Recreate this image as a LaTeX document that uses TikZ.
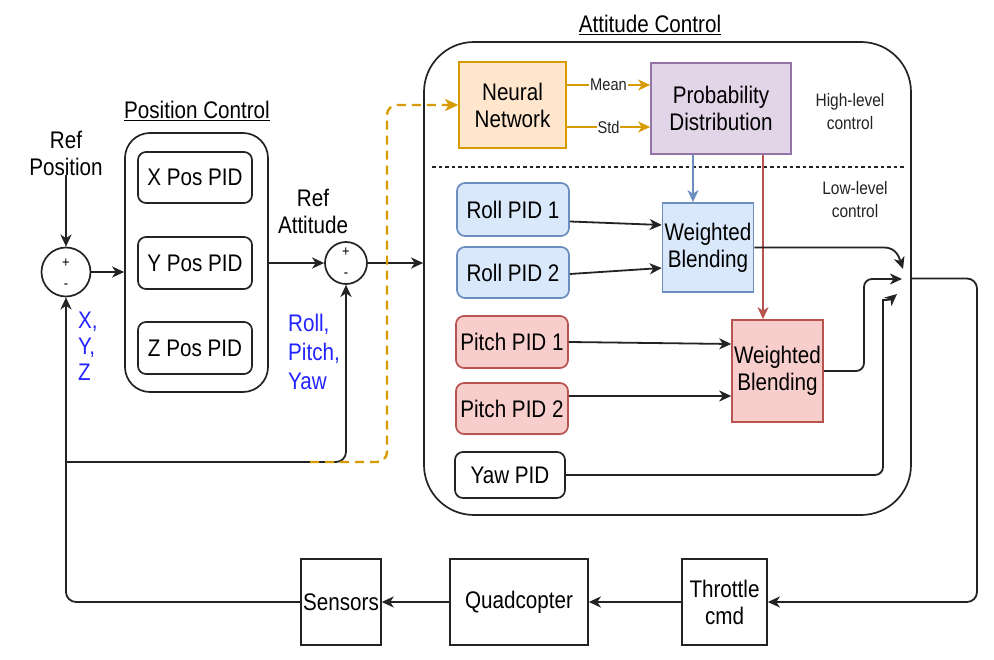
\documentclass[tikz,border=0pt]{standalone}
\usepackage{fontspec}
\setmainfont{Liberation Sans}[FakeStretch=0.86]
\usetikzlibrary{arrows.meta,calc}
\definecolor{ln}{RGB}{35,35,35}
\definecolor{orS}{HTML}{D79B00}
\definecolor{orF}{HTML}{FFE6CC}
\definecolor{puS}{HTML}{9673A6}
\definecolor{puF}{HTML}{E1D5E7}
\definecolor{blS}{HTML}{6C8EBF}
\definecolor{blF}{HTML}{DAE8FC}
\definecolor{reS}{HTML}{B85450}
\definecolor{reF}{HTML}{F8CECC}
\definecolor{bltxt}{RGB}{35,35,255}
\tikzset{
  box/.style={draw=ln, line width=1.7pt, inner sep=2pt, align=center},
  rbox/.style={box, rounded corners=8pt},
  arr/.style={draw=ln, line width=1.8pt, -{Stealth[length=12pt,width=11pt,inset=3.5pt]}},
  carr/.style={line width=1.6pt, -{Stealth[length=12pt,width=11pt,inset=3.5pt]}},
  sumc/.style={circle, draw=ln, line width=1.7pt, inner sep=0pt},
  small/.style={font=\fontsize{17}{20}\selectfont},
  smaller/.style={font=\fontsize{18}{23}\selectfont},
  pm/.style={font=\fontsize{15}{16}\selectfont, inner sep=0pt},
  lbl/.style={align=center, inner sep=0pt}
}
\begin{document}
\begin{tikzpicture}[x=1pt,y=-1pt, font=\fontsize{24}{27}\selectfont]
\useasboundingbox (0,0) rectangle (994,660);

% ---------- titles / labels
\node[lbl] (refpos) at (66,153) {Ref\\Position};
\node[lbl] (postitle) at (197,111) {\underline{Position Control}};
\node[lbl] (atttitle) at (650,25) {\underline{Attitude Control}};
\node[lbl] (refatt) at (313,211) {Ref\\Attitude};
\node[lbl, anchor=north west, align=left, text=bltxt, font=\fontsize{24}{26}\selectfont] (xyz) at (78,312) {X,\\Y,\\Z};
\node[lbl, anchor=north west, align=left, text=bltxt, font=\fontsize{24}{29}\selectfont] (rpy) at (288,314) {Roll,\\Pitch,\\Yaw};

% ---------- sum junctions
\node[sumc, minimum size=49pt] (sum1) at (66,272) {};
\node[pm] (s1p) at ([yshift=9pt]sum1) {+};
\node[pm] (s1m) at ([yshift=-14pt]sum1) {-};
\node[sumc, minimum size=42pt] (sum2) at (346,263) {};
\node[pm] (s2p) at ([yshift=11pt]sum2) {+};
\node[pm] (s2m) at ([yshift=-12pt]sum2) {-};

% ---------- position control
\node[box, rounded corners=25pt, minimum width=143pt, minimum height=259pt] (pos) at (196.5,262.5) {};
\node[rbox, minimum width=114pt, minimum height=51pt] (xpid) at (195,177.5) {X Pos PID};
\node[rbox, minimum width=114pt, minimum height=52pt] (ypid) at (195,263) {Y Pos PID};
\node[rbox, minimum width=114pt, minimum height=52pt] (zpid) at (195,348) {Z Pos PID};

% ---------- attitude control
\node[box, rounded corners=50pt, minimum width=487pt, minimum height=473pt] (att) at (667.5,278.5) {};
\node[box, draw=orS, fill=orF, minimum width=107pt, minimum height=86pt] (nn) at (512.5,105) {Neural\\Network};
\node[box, draw=puS, fill=puF, minimum width=140pt, minimum height=91pt] (pd) at (721,108.5) {Probability\\Distribution};
\node[lbl, smaller, text=ln] (hl) at (850,112) {High-level\\control};
\node[lbl, smaller, text=ln] (ll) at (855,200) {Low-level\\control};
\coordinate (sepL) at (432,167);
\coordinate (sepR) at (906,167);
\draw[ln, line width=1.5pt, dash pattern=on 3.5pt off 3pt] (sepL) -- (sepR);

\node[box, draw=blS, fill=blF, rounded corners=8pt, minimum width=112pt, minimum height=53pt] (roll1) at (513,209.5) {Roll PID 1};
\node[box, draw=blS, fill=blF, rounded corners=8pt, minimum width=112pt, minimum height=51pt] (roll2) at (513,272.5) {Roll PID 2};
\node[box, draw=reS, fill=reF, rounded corners=8pt, minimum width=112pt, minimum height=52pt] (pitch1) at (512,342) {Pitch PID 1};
\node[box, draw=reS, fill=reF, rounded corners=8pt, minimum width=112pt, minimum height=51pt] (pitch2) at (512,408.5) {Pitch PID 2};
\node[rbox, fill=white, minimum width=110pt, minimum height=46pt] (yaw) at (510,475) {Yaw PID};
\node[box, draw=blS, fill=blF, minimum width=88pt, minimum height=89pt] (wb1) at (708,247.5) {Weighted\\Blending};
\node[box, draw=reS, fill=reF, minimum width=89pt, minimum height=102pt] (wb2) at (777.5,371) {Weighted\\Blending};

% ---------- bottom row
\node[box, minimum width=85pt, minimum height=86pt] (thr) at (724.5,602) {Throttle\\cmd};
\node[box, minimum width=138pt, minimum height=86pt] (quad) at (519,602) {Quadcopter};
\node[box, minimum width=78pt, minimum height=86pt] (sens) at (341,602) {Sensors};

% ---------- connectors left part
\draw[arr] (refpos.south) -- (sum1.north);
\draw[arr] (sum1.east) -- (sum1 -| pos.west);
\draw[arr] (sum2 -| pos.east) -- (sum2.west);
\draw[arr] (sum2.east) -- (sum2 -| att.west);

\coordinate (fb) at (66,462);
\coordinate (od) at (310,462);
\coordinate (dj) at (387,105);
\draw[arr, rounded corners=10pt] (sens.west) -| (sum1.south);
\draw[arr, rounded corners=10pt] (fb) -| (sum2.south);
\draw[orS, line width=2.4pt, dash pattern=on 9pt off 6pt, rounded corners=10pt, -{Stealth[length=13pt,width=12pt,inset=3.5pt]}] (od) -| (dj) -- (nn.west);

% ---------- high-level connectors
\draw[carr, draw=orS] ([yshift=20pt]nn.east) -- node[fill=white, inner sep=1pt, small, text=ln]{Mean} ([yshift=20pt]nn.east -| pd.west);
\draw[carr, draw=orS] ([yshift=-22pt]nn.east) -- node[fill=white, inner sep=1pt, small, text=ln]{Std} ([yshift=-22pt]nn.east -| pd.west);
\draw[carr, draw=blS] ([xshift=-28pt]pd.south) -- ([xshift=-28pt]pd.south |- wb1.north);
\draw[carr, draw=reS] ([xshift=42pt]pd.south) -- ([xshift=42pt]pd.south |- wb2.north);

% ---------- low-level connectors
\draw[arr] ([yshift=-12pt]roll1.east) -- ([yshift=22.5pt]wb1.west);
\draw[arr] ([yshift=-1.5pt]roll2.east) -- ([yshift=-20.5pt]wb1.west);
\draw[arr] (pitch1.east) -- ([yshift=27pt]wb2.west);
\draw[arr] ([yshift=12.5pt]pitch2.east) -- ([yshift=-25pt]wb2.west);

\coordinate (j1) at (903,269);
\coordinate (j2) at (902,279);
\coordinate (j3) at (897,294);
\draw[arr] (wb1.east) -- (884,247.5) .. controls (896,247.5) and (899,257) .. (j1);
\draw[arr, rounded corners=8pt] (wb2.east) -- (864,371) -- (864,279) -- (j2);
\draw[arr, rounded corners=8pt] (yaw.east) -- (883,475) -- (883,308) .. controls (883,300) and (890,300) .. (j3);

\coordinate (oc) at (977,278.5);
\draw[arr, rounded corners=10pt] (att.east) -- (oc) |- (thr.east);
\draw[arr] (thr.west) -- (quad.east);
\draw[arr] (quad.west) -- (sens.east);
\end{tikzpicture}
\end{document}
